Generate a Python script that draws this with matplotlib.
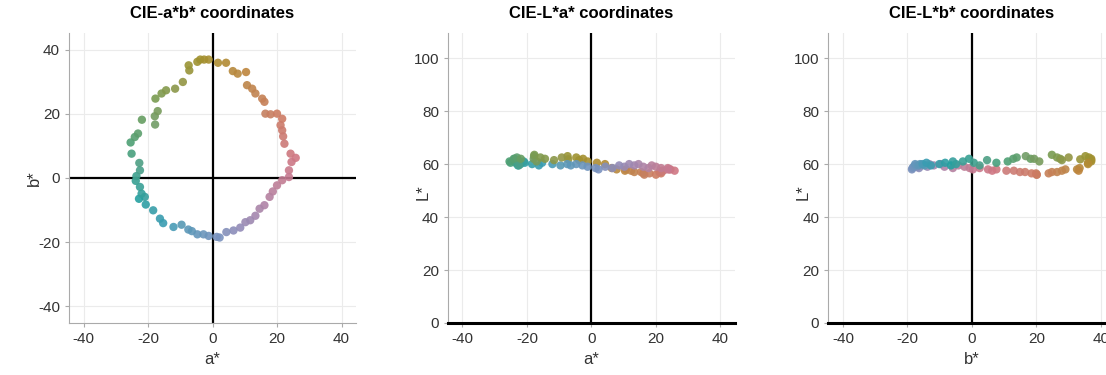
import numpy as np
import matplotlib
matplotlib.use("Agg")
from matplotlib import pyplot as plt

plt.rcParams['font.family'] = ['Liberation Sans', 'DejaVu Sans']
plt.rcParams['axes.unicode_minus'] = False

# CIE coordinates of the samples (a*, b*, L*)
a_star = [-3.8, -2.6, -1.2, -4.7, -7.4, -7.2, 1.7, 4.2,
          6.3, 7.8, 10.4, 10.7, 12.3, 13.3, 15.4, 16.1,
          16.4, 18.0, 20.0, 21.6, 21.1, 21.6, 21.9, 22.3,
          24.2, 25.8, 24.5, 23.7, 23.7,
          21.6, 20.0, 18.7, 17.7, 16.1, 14.6, 13.3,
          11.7, 10.2, 8.6, 6.5, 4.3, 2.2, 1.3,
          -1.2, -2.8, -4.7, -6.4, -7.5, -9.6, -12.1,
          -15.3, -16.3, -18.4, -20.7, -21.0, -22.8,
          -22.0, -22.5, -23.8, -23.6, -22.5, -22.7, -25.1,
          -25.4, -24.1, -23.1, -21.9, -17.8, -17.9, -17.0, -17.7, -15.8,
          -14.4, -11.6, -9.2]
b_star = [37.0, 37.0, 37.0, 36.3, 35.2, 33.6, 36.0, 36.0,
          33.4, 32.6, 33.1, 29.0, 27.9, 26.4, 24.8, 23.8,
          20.1, 19.9, 20.1, 18.5, 16.5, 14.9, 13.0, 10.7,
          7.6, 6.3, 5.0, 2.4, 0.3,
          -0.7, -2.3, -4.2, -5.9, -8.5, -9.6, -11.8,
          -13.2, -13.8, -15.5, -16.4, -16.9, -18.6, -18.4,
          -18.1, -17.6, -17.6, -16.6, -16.1, -14.6, -15.3,
          -14.1, -12.7, -10.1, -8.3, -5.9, -6.5,
          -4.9, -2.8, -0.9, 0.6, 2.4, 4.7, 7.6,
          11.1, 12.8, 13.9, 18.2, 16.7, 19.3, 20.9, 24.8, 26.4,
          27.4, 27.9, 30.0]
L_star = [61.5, 62.0, 61.0, 62.5, 63.0, 61.8, 60.5, 60.0,
          58.5, 58.0, 57.5, 58.0, 57.5, 57.0, 57.0, 56.5,
          56.0, 56.5, 56.0, 56.5, 57.0, 57.0, 57.5, 57.5,
          58.0, 57.5, 58.0, 58.5, 58.0,
          58.5, 59.0, 59.5, 58.5, 59.0, 60.0, 59.5,
          60.0, 59.0, 59.5, 58.5, 59.0, 58.0, 58.5,
          59.0, 59.5, 60.0, 59.5, 60.0, 59.5, 60.0,
          60.5, 59.5, 60.0, 60.5, 61.0, 59.5,
          60.0, 61.0, 62.0, 60.5, 59.5, 61.5, 60.5,
          61.0, 62.0, 62.5, 62.0, 63.0, 62.0, 61.0, 63.5, 62.5,
          62.0, 61.5, 62.5]

a_star = np.array(a_star)
b_star = np.array(b_star)
L_star = np.array(L_star)


def lab_to_rgb(L, a, b):
    # CIELAB (D65) -> sRGB, for colouring each sample
    fy = (L + 16) / 116
    fx = fy + a / 500
    fz = fy - b / 200
    def finv(t):
        return np.where(t > 6 / 29, t ** 3, 3 * (6 / 29) ** 2 * (t - 4 / 29))
    X = 0.95047 * finv(fx)
    Y = 1.0 * finv(fy)
    Z = 1.08883 * finv(fz)
    r = 3.2406 * X - 1.5372 * Y - 0.4986 * Z
    g = -0.9689 * X + 1.8758 * Y + 0.0415 * Z
    bb = 0.0557 * X - 0.2040 * Y + 1.0570 * Z
    rgb = np.stack([r, g, bb], axis=-1)
    rgb = np.clip(rgb, 0, 1)
    rgb = np.where(rgb > 0.0031308, 1.055 * rgb ** (1 / 2.4) - 0.055, 12.92 * rgb)
    return np.clip(rgb, 0, 1)


colors = lab_to_rgb(np.full_like(a_star, 60.0), a_star * 1.4, b_star * 1.4)

fig = plt.figure(figsize=(11.06, 3.75), dpi=100)

w = 0.2595
h = 0.7733
bottom = 0.1387
lefts = [0.0624, 0.405, 0.749]

panels = [
    ("CIE-a*b* coordinates", a_star, b_star, "a*", "b*"),
    ("CIE-L*a* coordinates", a_star, L_star, "a*", "L*"),
    ("CIE-L*b* coordinates", b_star, L_star, "b*", "L*"),
]

for i, (title, xs, ys, xl, yl) in enumerate(panels):
    ax = fig.add_axes([lefts[i], bottom, w, h])
    ax.grid(True, color='#ebebeb', linewidth=0.8)
    ax.set_axisbelow(True)
    ax.axvline(0, color='black', linewidth=1.6, zorder=1)
    if i == 0:
        ax.axhline(0, color='black', linewidth=1.6, zorder=1)
    ax.scatter(xs, ys, s=36, c=colors, alpha=0.9, linewidths=0, zorder=3)
    ax.set_xlim(-44.5, 44.5)
    ax.set_xticks([-40, -20, 0, 20, 40])
    if i == 0:
        ax.set_ylim(-45.3, 45.3)
        ax.set_yticks([-40, -20, 0, 20, 40])
    else:
        ax.set_ylim(0, 109.5)
        ax.set_yticks([0, 20, 40, 60, 80, 100])
    for s in ['top', 'right']:
        ax.spines[s].set_visible(False)
    for s in ['left', 'bottom']:
        ax.spines[s].set_color('#aaaaaa')
        ax.spines[s].set_linewidth(0.8)
    if i > 0:
        ax.spines['bottom'].set_color('black')
        ax.spines['bottom'].set_linewidth(2.2)
    ax.tick_params(colors='#aaaaaa', labelcolor='#333333', labelsize=11, length=3, width=0.8)
    ax.set_title(title, fontsize=12, fontweight='bold', pad=11)
    ax.set_xlabel(xl, fontsize=12, color='#333333')
    ax.set_ylabel(yl, fontsize=12, color='#333333', labelpad=-3)
    if i > 0:
        ax.yaxis.set_label_coords(-0.062, 0.45)

fig.savefig("out.png", dpi=100)
